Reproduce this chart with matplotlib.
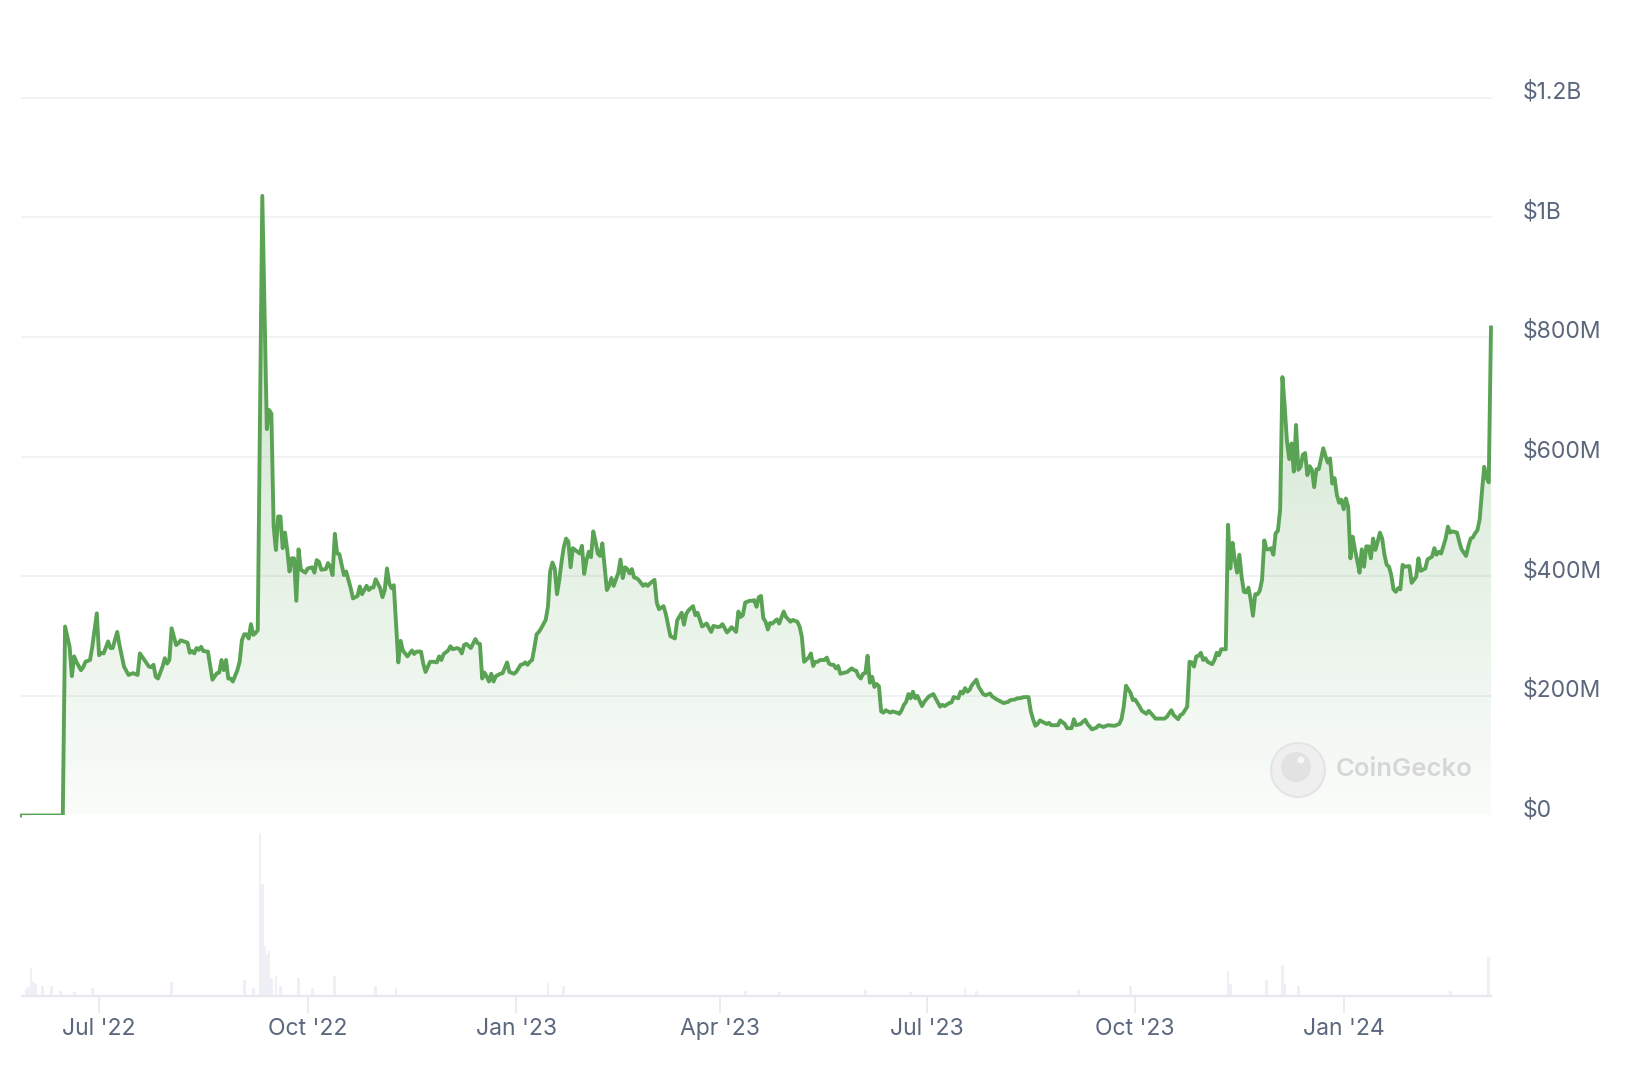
import numpy as np
import matplotlib
matplotlib.use("Agg")
import matplotlib.pyplot as plt
import matplotlib.dates as mdates
from matplotlib.patches import Circle, Polygon
from matplotlib import transforms

# market cap, $M; day offsets from 2022-07-01
day_offset = [
    -34, -16, -15, -13, -12, -11, -10, -8, -7, -6, -4, -3, -1, 0, 1, 2, 4, 5, 6, 8, 9, 11, 13, 15, 17, 18,
    20, 22, 23, 24, 25, 26, 28, 29, 30, 31, 32, 34, 35, 36, 39, 40, 41, 42, 43, 44, 45, 46, 48, 50, 52,
    53, 54, 55, 56, 57, 58, 59, 61, 62, 63, 64, 65, 66, 67, 68, 69, 70, 72, 74, 75, 76, 77, 78, 79, 80,
    81, 82, 83, 84, 85, 86, 87, 88, 89, 91, 92, 94, 95, 96, 97, 98, 100, 101, 102, 103, 104, 105, 106,
    108, 109, 111, 112, 113, 114, 115, 116, 118, 119, 120, 121, 122, 124, 125, 126, 127, 128, 129, 130,
    132, 133, 134, 136, 138, 139, 140, 142, 143, 144, 146, 148, 149, 150, 151, 152, 154, 155, 156, 158,
    159, 160, 161, 162, 164, 166, 167, 168, 169, 170, 171, 172, 173, 174, 175, 177, 178, 180, 181, 183,
    184, 186, 187, 188, 189, 190, 191, 192, 193, 194, 195, 197, 198, 199, 200, 201, 202, 203, 204, 205,
    206, 207, 208, 209, 210, 212, 213, 214, 215, 216, 217, 218, 219, 220, 221, 222, 224, 225, 226, 227,
    228, 229, 230, 231, 232, 233, 234, 235, 236, 237, 238, 240, 241, 242, 243, 245, 246, 247, 249, 250,
    252, 253, 254, 255, 257, 258, 259, 260, 262, 263, 264, 265, 266, 268, 270, 271, 273, 274, 275, 277,
    278, 279, 281, 282, 283, 284, 285, 287, 288, 289, 290, 291, 292, 293, 294, 295, 296, 297, 299, 300,
    302, 303, 305, 306, 308, 309, 310, 311, 313, 314, 315, 316, 317, 318, 320, 321, 322, 323, 324, 325,
    326, 327, 329, 330, 332, 333, 334, 335, 336, 337, 338, 339, 340, 341, 342, 343, 344, 345, 346, 347,
    349, 350, 352, 353, 354, 355, 356, 357, 358, 359, 360, 361, 363, 364, 366, 368, 369, 371, 372, 373,
    375, 376, 377, 379, 380, 381, 382, 383, 384, 385, 387, 388, 390, 391, 393, 394, 396, 398, 399, 401,
    402, 404, 405, 406, 408, 410, 411, 412, 413, 414, 415, 416, 418, 419, 420, 421, 423, 424, 426, 427,
    428, 429, 430, 431, 433, 434, 435, 436, 438, 440, 441, 443, 445, 448, 450, 451, 452, 453, 455, 456,
    457, 459, 460, 462, 463, 464, 466, 468, 470, 471, 473, 474, 476, 477, 478, 479, 480, 481, 482, 483,
    484, 485, 486, 487, 488, 489, 491, 492, 493, 494, 495, 496, 497, 498, 499, 500, 501, 502, 503, 504,
    505, 506, 507, 508, 509, 510, 511, 512, 513, 514, 515, 516, 517, 518, 519, 520, 521, 522, 523, 524,
    525, 526, 527, 528, 529, 530, 531, 532, 533, 534, 535, 536, 537, 538, 539, 540, 541, 542, 543, 544,
    545, 546, 547, 548, 549, 550, 551, 552, 553, 554, 555, 556, 557, 558, 559, 560, 561, 562, 563, 564,
    565, 566, 567, 568, 569, 570, 571, 572, 573, 574, 575, 576, 578, 579, 581, 582, 583, 585, 586, 588,
    589, 590, 591, 592, 594, 595, 596, 597, 599, 600, 601, 603, 604, 605, 606, 607, 608, 609, 610, 611,
    612, 613, 614,
]
market_cap_m = [
    0, 0, 316, 282, 233, 266, 257, 243, 248, 257, 260, 282, 338, 268, 272, 271, 291, 280, 280, 307, 285,
    249, 235, 238, 235, 271, 260, 249, 248, 252, 232, 229, 249, 263, 254, 260, 313, 285, 288, 293, 289,
    272, 275, 271, 280, 277, 282, 275, 274, 227, 238, 239, 260, 243, 260, 229, 229, 224, 243, 257, 293,
    303, 303, 296, 320, 302, 305, 310, 1036, 646, 678, 672, 483, 444, 500, 500, 447, 473, 444, 408, 430,
    430, 359, 445, 411, 406, 413, 415, 406, 427, 424, 411, 412, 422, 416, 402, 471, 438, 437, 402, 408,
    380, 363, 365, 367, 383, 370, 384, 377, 381, 381, 395, 380, 365, 377, 413, 388, 380, 385, 256, 292,
    276, 266, 276, 270, 274, 274, 254, 240, 257, 257, 256, 266, 260, 270, 276, 283, 278, 280, 278, 271,
    285, 287, 280, 295, 288, 287, 229, 239, 232, 224, 237, 224, 233, 237, 238, 256, 240, 237, 240, 252,
    253, 256, 252, 257, 260, 280, 303, 307, 313, 327, 349, 409, 423, 413, 370, 394, 424, 449, 463, 458,
    415, 447, 444, 438, 451, 404, 427, 441, 432, 475, 458, 438, 434, 455, 377, 384, 397, 384, 395, 405,
    428, 397, 415, 412, 405, 412, 398, 397, 394, 384, 387, 384, 388, 394, 356, 345, 350, 337, 300, 298,
    296, 326, 339, 319, 337, 343, 350, 335, 339, 328, 316, 321, 307, 317, 315, 316, 320, 306, 310, 315,
    307, 341, 332, 335, 356, 359, 359, 360, 349, 365, 367, 330, 324, 311, 322, 321, 328, 321, 341, 332,
    324, 327, 324, 316, 299, 257, 264, 271, 250, 257, 257, 260, 260, 264, 254, 252, 252, 246, 250, 237,
    239, 240, 246, 243, 242, 233, 229, 237, 238, 267, 222, 232, 215, 220, 216, 174, 172, 176, 172, 174,
    172, 170, 176, 185, 190, 203, 196, 207, 196, 200, 183, 190, 199, 203, 196, 182, 185, 183, 188, 189,
    198, 196, 207, 204, 213, 207, 210, 218, 227, 215, 203, 201, 204, 199, 194, 190, 188, 190, 193, 194,
    196, 196, 198, 198, 174, 161, 150, 153, 159, 157, 153, 155, 151, 151, 151, 159, 153, 146, 146, 146,
    161, 151, 153, 157, 160, 153, 144, 147, 151, 148, 151, 150, 153, 161, 182, 217, 205, 193, 194, 182,
    175, 170, 175, 171, 162, 162, 162, 165, 176, 168, 161, 168, 170, 176, 182, 257, 256, 249, 266, 267,
    272, 260, 263, 257, 253, 260, 272, 268, 278, 278, 278, 486, 413, 456, 427, 406, 436, 399, 374, 373,
    381, 361, 334, 370, 370, 376, 394, 460, 445, 445, 447, 436, 472, 476, 512, 733, 684, 625, 596, 622,
    575, 653, 578, 583, 603, 606, 569, 584, 578, 549, 579, 579, 596, 614, 601, 590, 597, 555, 564, 536,
    523, 528, 512, 530, 516, 430, 466, 444, 426, 406, 445, 416, 450, 450, 430, 463, 444, 458, 473, 463,
    436, 419, 416, 402, 378, 374, 380, 378, 419, 416, 417, 389, 399, 430, 409, 413, 428, 433, 447, 436,
    441, 438, 463, 483, 473, 475, 473, 458, 445, 434, 450, 463, 465, 472, 477, 495, 541, 583, 565, 557,
    816,
]

# 24h volume spikes, relative height (no scale shown on the chart)
vol_day = [-32, -31, -30, -29, -28, -25, -21, -17, -11, -3, 32, 64, 68, 71, 72, 73, 74, 75, 76, 78, 80,
           88, 94, 104, 122, 131, 198, 205, 285, 300, 338, 358, 382, 387, 432, 455, 498, 499, 515, 522,
           523, 529, 596, 613]
vol_height = [7, 9, 28, 14, 12, 10, 10, 5, 4, 8, 14, 16, 8, 163, 112, 50, 42, 45, 18, 20, 10,
              18, 8, 20, 10, 8, 13, 10, 5, 4, 6, 4, 9, 5, 6, 10, 25, 12, 16, 31,
              12, 10, 5, 39]

price_ticks_m = [0, 200, 400, 600, 800, 1000, 1200]
price_tick_labels = ["$0", "$200M", "$400M", "$600M", "$800M", "$1B", "$1.2B"]
month_ticks = ["2022-07-01", "2022-10-01", "2023-01-01", "2023-04-01", "2023-07-01", "2023-10-01", "2024-01-01"]

LINE = "#5aa355"
GRID = "#eff0f3"
TXT = "#5b677d"
W, H = 1636, 1068

plt.rcParams["font.family"] = ["Inter", "DejaVu Sans"]

base = np.datetime64("2022-07-01")
dates = base + np.array(day_offset, dtype="timedelta64[D]")
x = mdates.date2num(dates)
y = np.array(market_cap_m, dtype=float)
vx = mdates.date2num(base + np.array(vol_day, dtype="timedelta64[D]"))

fig = plt.figure(figsize=(W / 100, H / 100), dpi=100)
fig.patch.set_facecolor("white")

def fig_box(left, top, right, bottom):
    return [left / W, 1 - bottom / H, (right - left) / W, (bottom - top) / H]

ax = fig.add_axes(fig_box(22, 38, 1491, 815.5))
vax = fig.add_axes(fig_box(22, 815, 1491, 996), sharex=ax)

ax.set_xlim(x[0], x[-1])
ax.set_ylim(0, 1300)

# gridlines
for v in price_ticks_m:
    ax.axhline(v, color=GRID, lw=1.2, zorder=0.5, clip_on=False)

# gradient fill under the line
verts = np.column_stack([np.r_[x[0], x, x[-1]], np.r_[0, y, 0]])
poly = Polygon(verts, closed=True, facecolor="none", edgecolor="none")
ax.add_patch(poly)
levels = np.linspace(1300, 0, 400)[:, None]
alpha = np.clip(0.03 + 0.0003 * levels, 0, 1)
rgba = np.zeros((400, 1, 4))
rgba[..., 0], rgba[..., 1], rgba[..., 2] = 0x5a / 255, 0xa3 / 255, 0x55 / 255
rgba[..., 3] = alpha
img = ax.imshow(rgba, extent=[x[0], x[-1], 0, 1300], aspect="auto", zorder=1, interpolation="bilinear")
img.set_clip_path(poly)

ax.plot(x, y, color=LINE, lw=2.8, zorder=3, clip_on=False, solid_joinstyle="round")

for s in ax.spines.values():
    s.set_visible(False)
ax.tick_params(axis="x", which="both", bottom=False, labelbottom=False)
ax.yaxis.tick_right()
ax.set_yticks(price_ticks_m)
ax.set_yticklabels(price_tick_labels)
ax.tick_params(axis="y", length=0, pad=23, labelsize=16.5, labelcolor=TXT)
shift = transforms.ScaledTranslation(0, 8 / 100, fig.dpi_scale_trans)
for lab in ax.get_yticklabels():
    lab.set_transform(lab.get_transform() + shift)
    lab.set_horizontalalignment("left")

# volume panel
vax.bar(vx, vol_height, width=1.2, color="#eef0f5", linewidth=0, zorder=1)
vax.set_ylim(0, 181)
vax.axhline(0, color="#e8e9ee", lw=1.6, zorder=2, clip_on=False)
for s in vax.spines.values():
    s.set_visible(False)
vax.set_yticks([])
vax.set_xticks(mdates.date2num(np.array(month_ticks, dtype="datetime64[D]")))
vax.xaxis.set_major_formatter(mdates.DateFormatter("%b '%y"))
vax.tick_params(axis="x", length=12, width=1.2, color="#e6e8ed", pad=4, labelsize=16.5, labelcolor=TXT)
vax.set_xlim(x[0], x[-1])

# CoinGecko watermark
px = transforms.IdentityTransform()
fig.add_artist(Circle((1298, H - 770), 27, transform=px, facecolor="#efefef", edgecolor="#e4e4e4", lw=1.5))
fig.add_artist(Circle((1296, H - 767), 15, transform=px, facecolor="#e2e2e2", edgecolor="none"))
fig.add_artist(Circle((1301, H - 760), 3.5, transform=px, facecolor="#f7f7f7", edgecolor="none"))
fig.text(1336 / W, 1 - 770 / H, "CoinGecko", fontsize=18.5, fontweight="semibold", color="#d6d6d6",
         ha="left", va="center")

fig.savefig("out.png", dpi=100, facecolor="white")
